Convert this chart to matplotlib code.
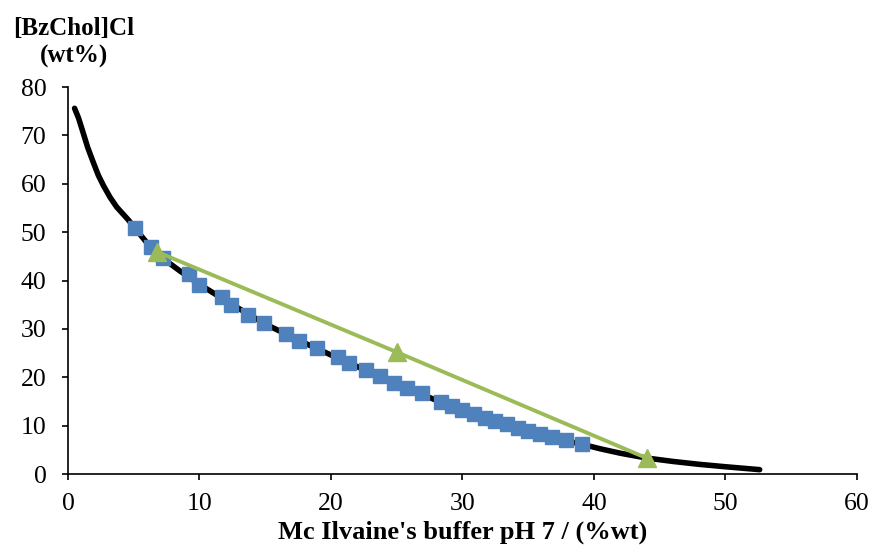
import matplotlib
matplotlib.use("Agg")
import matplotlib.pyplot as plt

# binodal curve (black line)
curve_x = [0.5, 0.8, 1.1, 1.5, 1.9, 2.3, 2.7, 3.2, 3.7, 4.2, 4.6, 5.1, 6.0,
           7.0, 8.5, 10.0, 12.5, 15.0, 17.5, 20.0, 22.5, 25.0, 27.5, 30.0,
           32.5, 35.0, 37.0, 39.0, 40.5, 42.0, 44.0, 46.0, 48.0, 50.0, 52.6]
curve_y = [75.6, 73.6, 71.0, 67.5, 64.6, 61.8, 59.6, 57.2, 55.2, 53.7, 52.5,
           50.8, 47.8, 45.0, 42.0, 39.2, 35.0, 31.0, 27.7, 24.6, 21.6, 18.6,
           15.8, 13.1, 10.9, 8.8, 7.4, 6.2, 5.2, 4.3, 3.3, 2.6, 2.0, 1.5, 0.9]

# experimental points (blue squares)
exp_x = [5.1, 6.3, 7.2, 9.2, 10.0, 11.7, 12.4, 13.7, 14.9, 16.6, 17.6, 18.9,
         20.5, 21.4, 22.7, 23.7, 24.8, 25.8, 26.9, 28.4, 29.2, 30.0, 30.9,
         31.7, 32.5, 33.4, 34.2, 35.0, 35.9, 36.8, 37.9, 39.1]
exp_y = [50.8, 46.9, 44.6, 41.3, 39.0, 36.6, 34.9, 32.9, 31.2, 28.9, 27.5, 26.0,
         24.2, 22.9, 21.5, 20.2, 18.8, 17.8, 16.7, 14.9, 14.0, 13.2, 12.4,
         11.6, 11.0, 10.3, 9.5, 8.9, 8.3, 7.6, 7.0, 6.2]

# tie line (green triangles)
tie_x = [6.8, 25.0, 44.0]
tie_y = [45.9, 25.2, 3.3]

plt.rcParams["font.family"] = ["Liberation Serif", "DejaVu Serif"]

fig = plt.figure(figsize=(8.75, 5.49), dpi=100)
ax = fig.add_axes([0.0777, 0.1366, 0.9017, 0.7049])

ax.plot(curve_x, curve_y, color="black", lw=4, solid_capstyle="round",
        solid_joinstyle="round", zorder=1)
ax.plot(exp_x, exp_y, ls="none", marker="s", ms=10.5, color="#4F81BD",
        mec="#4F81BD", zorder=2)
ax.plot(tie_x, tie_y, color="#9BBB59", lw=2.8, marker="^", ms=13, zorder=3)

ax.set_xlim(0, 60)
ax.set_ylim(0, 80)
ax.set_xticks(range(0, 61, 10))
ax.set_yticks(range(0, 81, 10))
for s in ["top", "right"]:
    ax.spines[s].set_visible(False)
for s in ["left", "bottom"]:
    ax.spines[s].set_linewidth(1.2)
ax.tick_params(direction="out", length=4.5, width=1.2, labelsize=18.5)
ax.tick_params(axis="x", pad=9)
ax.tick_params(axis="y", pad=11)

ax.set_xlabel("Mc Ilvaine's buffer pH 7 / (%wt)", fontsize=19, fontweight="bold",
              labelpad=4)
fig.text(0.0846, 0.9226, "[BzChol]Cl\n(wt%)", fontsize=18, fontweight="bold",
         ha="center", va="center", linespacing=1.3)

fig.savefig("out.png", dpi=100)
